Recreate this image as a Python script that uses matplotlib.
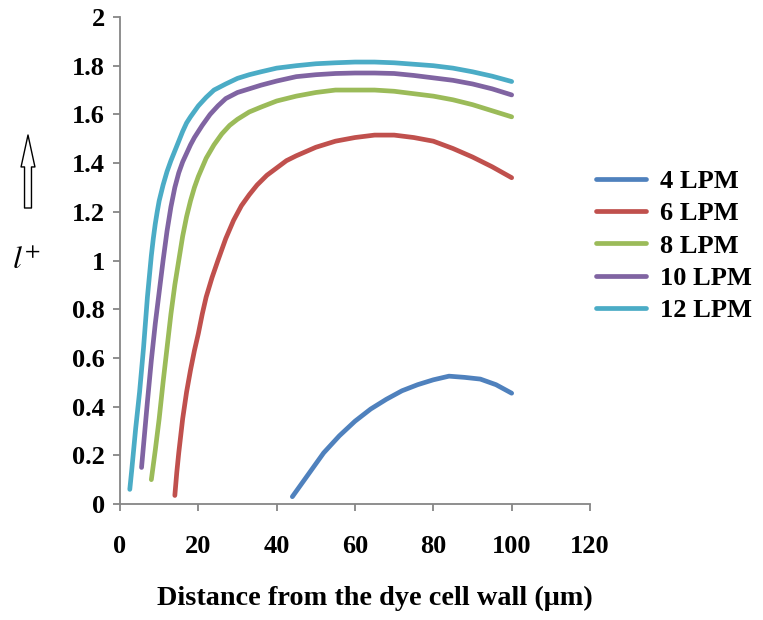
import matplotlib
matplotlib.use("Agg")
import matplotlib.pyplot as plt

# Dye concentration profiles l+ vs distance from the dye cell wall
x_4 = [44, 48, 52, 56, 60, 64, 68, 72, 76, 80, 84, 88, 92, 96, 100]
y_4 = [0.03, 0.12, 0.21, 0.28, 0.34, 0.39, 0.43, 0.465, 0.49, 0.51, 0.525, 0.52, 0.513, 0.49, 0.455]

x_6 = [14, 14.5, 15, 15.5, 16, 17, 18, 19, 20, 21, 22, 23.5, 25, 27, 29, 31, 33, 35, 37.5, 40,
       42.5, 45, 50, 55, 60, 65, 70, 75, 80, 85, 90, 95, 100]
y_6 = [0.035, 0.13, 0.21, 0.28, 0.35, 0.46, 0.55, 0.63, 0.70, 0.78, 0.85, 0.93, 1.0, 1.09, 1.165,
       1.225, 1.27, 1.31, 1.35, 1.38, 1.41, 1.43, 1.465, 1.49, 1.505, 1.515, 1.515, 1.505, 1.49,
       1.46, 1.425, 1.385, 1.34]

x_8 = [8, 8.5, 9, 10, 11, 12, 13, 14, 15, 16, 17, 18, 19, 20, 22, 24, 26, 28, 30, 33, 36, 40, 45,
       50, 55, 60, 65, 70, 75, 80, 85, 90, 95, 100]
y_8 = [0.10, 0.16, 0.22, 0.35, 0.50, 0.64, 0.78, 0.90, 1.0, 1.10, 1.18, 1.245, 1.30, 1.345, 1.42,
       1.475, 1.52, 1.555, 1.58, 1.61, 1.63, 1.655, 1.675, 1.69, 1.70, 1.70, 1.70, 1.695, 1.685,
       1.675, 1.66, 1.64, 1.615, 1.59]

x_10 = [5.5, 6, 7, 8, 9, 10, 11, 12, 13, 14, 15, 16, 17, 18, 19, 21, 23, 25, 27, 30, 33, 36, 40,
        45, 50, 55, 60, 65, 70, 75, 80, 85, 90, 95, 100]
y_10 = [0.15, 0.24, 0.42, 0.59, 0.74, 0.87, 1.0, 1.12, 1.22, 1.30, 1.36, 1.405, 1.44, 1.475, 1.505,
        1.555, 1.60, 1.635, 1.665, 1.69, 1.705, 1.72, 1.737, 1.755, 1.763, 1.768, 1.77, 1.77,
        1.768, 1.76, 1.75, 1.74, 1.725, 1.705, 1.68]

x_12 = [2.5, 3, 4, 5, 6, 7, 8, 8.5, 9, 9.5, 10, 11, 12, 13, 14, 15, 16, 17, 18, 20, 22, 24, 27,
        30, 33, 36, 40, 45, 50, 55, 60, 65, 70, 75, 80, 85, 90, 95, 100]
y_12 = [0.06, 0.14, 0.31, 0.46, 0.64, 0.85, 1.02, 1.09, 1.15, 1.20, 1.245, 1.31, 1.365, 1.41, 1.45,
        1.49, 1.53, 1.565, 1.59, 1.635, 1.67, 1.70, 1.725, 1.748, 1.763, 1.775, 1.79, 1.80, 1.808,
        1.812, 1.815, 1.815, 1.812, 1.806, 1.80, 1.79, 1.775, 1.757, 1.735]

labels = ["4 LPM", "6 LPM", "8 LPM", "10 LPM", "12 LPM"]
colors = ["#4F81BD", "#C0504D", "#9BBB59", "#8064A2", "#4BACC6"]

x_ticks = [0, 20, 40, 60, 80, 100, 120]
y_ticks = [0, 0.2, 0.4, 0.6, 0.8, 1.0, 1.2, 1.4, 1.6, 1.8, 2.0]
y_ticklabels = ["0", "0.2", "0.4", "0.6", "0.8", "1", "1.2", "1.4", "1.6", "1.8", "2"]

W, H = 763, 620
fig = plt.figure(figsize=(W / 100, H / 100), dpi=100)
ax = fig.add_axes([120 / W, 1 - 504 / H, 470 / W, 487 / H])

series = [(x_4, y_4), (x_6, y_6), (x_8, y_8), (x_10, y_10), (x_12, y_12)]
for (xs, ys), lab, col in zip(series, labels, colors):
    ax.plot(xs, ys, color=col, lw=3.4, label=lab, solid_capstyle="round", solid_joinstyle="round")

ax.set_xlim(0, 120)
ax.set_ylim(0, 2)
ax.set_xticks(x_ticks)
ax.set_yticks(y_ticks)
ax.set_yticklabels(y_ticklabels)

serif_bold = dict(family="Liberation Serif", weight="bold")
for lbl in ax.get_xticklabels() + ax.get_yticklabels():
    lbl.set_fontfamily(serif_bold["family"])
    lbl.set_fontweight(serif_bold["weight"])
    lbl.set_fontsize(19)

for side in ("top", "right"):
    ax.spines[side].set_visible(False)
for side in ("left", "bottom"):
    ax.spines[side].set_color("#868686")
    ax.spines[side].set_linewidth(1.3)
ax.tick_params(axis="both", direction="out", length=5, width=1.3, color="#868686")
ax.tick_params(axis="y", pad=6)
ax.tick_params(axis="x", pad=17)

leg = fig.legend(loc="upper left", bbox_to_anchor=(572 / W, 1 - 146 / H), frameon=False,
                 prop=dict(size=19, **serif_bold),
                 handlelength=1.9, handletextpad=0.55, labelspacing=0.33)

fig.text(375 / W, 1 - 598 / H, "Distance from the dye cell wall (\u03bcm)",
         ha="center", va="center", fontfamily="Liberation Serif", fontweight="bold", fontsize=20.3)

plt.rcParams["mathtext.fontset"] = "stix"
fig.text(26 / W, 1 - 260 / H, r"$l^{+}$", ha="center", va="center", fontsize=23)

ax.annotate("", xy=(28, H - 135), xytext=(28, H - 208), xycoords="figure pixels",
            textcoords="figure pixels",
            arrowprops=dict(arrowstyle="simple,head_length=2.3,head_width=1.0,tail_width=0.5",
                            fc="white", ec="black", lw=1.0, shrinkA=0, shrinkB=0))

fig.savefig("out.png", dpi=100)
